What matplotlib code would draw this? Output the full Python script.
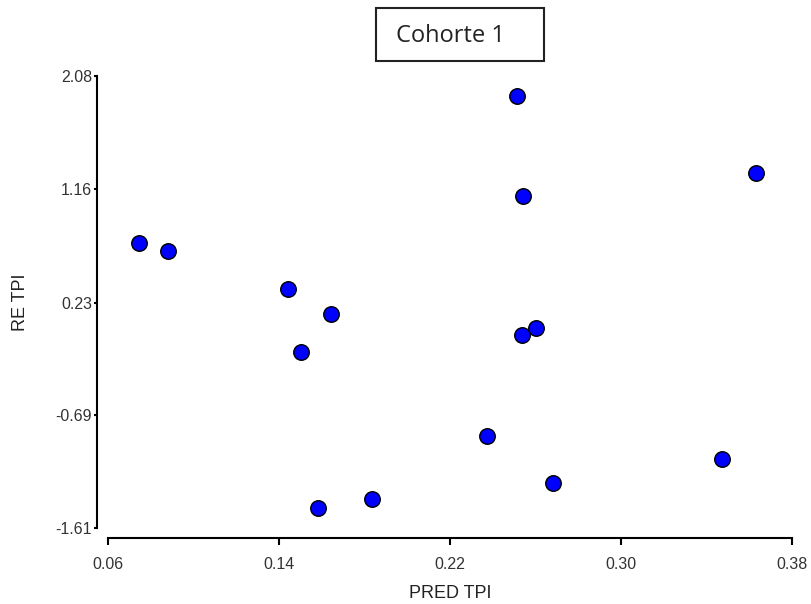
import matplotlib
matplotlib.use("Agg")
import matplotlib.pyplot as plt
from matplotlib.patches import Rectangle

pred_tpi = [0.0745, 0.0882, 0.1443, 0.1642, 0.1503, 0.2512, 0.2543, 0.3631,
            0.2604, 0.2538, 0.2372, 0.3471, 0.2680, 0.1834, 0.1584]
re_tpi = [0.719, 0.654, 0.341, 0.139, -0.171, 1.919, 1.100, 1.286,
          0.020, -0.034, -0.857, -1.047, -1.240, -1.373, -1.449]
xticks = [0.06, 0.14, 0.22, 0.30, 0.38]
yticks = [-1.61, -0.69, 0.23, 1.16, 2.08]
title = "Cohorte 1"

fig = plt.figure(figsize=(8.11, 6.04), dpi=100)
ax = fig.add_axes([108/811, 1-528/604, 684/811, 452/604])
ax.scatter(pred_tpi, re_tpi, s=125, c="#0000ff", edgecolors="black",
           linewidths=1.0, zorder=3, clip_on=False)
ax.set_xlim(0.06, 0.38)
ax.set_ylim(-1.61, 2.08)
ax.set_xticks(xticks)
ax.set_xticklabels([f"{v:.2f}" for v in xticks])
ax.set_yticks(yticks)
ax.set_yticklabels([f"{v:.2f}" for v in yticks])
for s in ["top", "right"]:
    ax.spines[s].set_visible(False)
ax.spines["left"].set_position(("outward", 7.9))
ax.spines["bottom"].set_position(("outward", 7.2))
ax.spines["left"].set_linewidth(1.5)
ax.spines["bottom"].set_linewidth(1.5)
ax.tick_params(axis="x", length=5, width=1.5, pad=9, labelsize=11.5,
               labelcolor="#333333")
ax.tick_params(axis="y", length=2.5, width=1.5, pad=1, labelsize=11.5,
               labelcolor="#333333")
for lab in ax.get_xticklabels() + ax.get_yticklabels():
    lab.set_fontfamily("Liberation Sans")
ax.set_xlabel("PRED TPI", fontsize=13, fontfamily="Liberation Sans",
              color="#222222", labelpad=9)
ax.set_ylabel("RE TPI", fontsize=13, fontfamily="Liberation Sans",
              color="#222222", labelpad=19)

fig.patches.append(Rectangle((376/811, 1-61/604), 168/811, 53/604,
                             transform=fig.transFigure, fill=False,
                             edgecolor="#222222", linewidth=1.5))
fig.text(451/811, 1-36/604, title, ha="center", va="center",
         fontsize=17, fontfamily="Open Sans", color="#222222")

fig.savefig("out.png", dpi=100)
